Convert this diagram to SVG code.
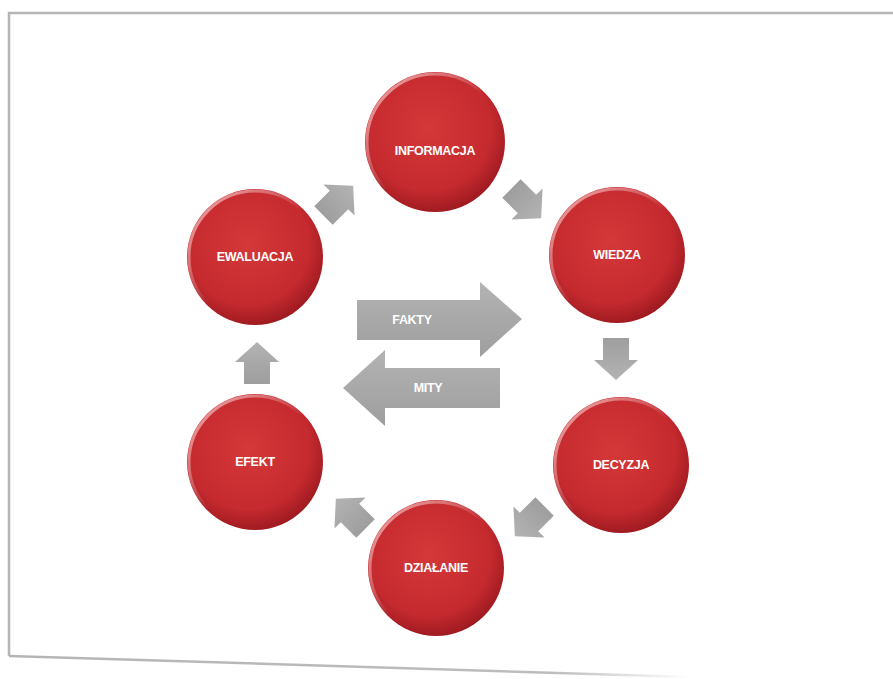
<svg xmlns="http://www.w3.org/2000/svg" width="893" height="679" viewBox="0 0 893 679">
<defs>
<radialGradient id="red" cx="0.45" cy="0.4" r="0.6">
<stop offset="0" stop-color="#d53838"/>
<stop offset="0.75" stop-color="#c52a2f"/>
<stop offset="1" stop-color="#a01b21"/>
</radialGradient>
<linearGradient id="rim" x1="0" y1="0" x2="1" y2="1">
<stop offset="0" stop-color="#f4b0b0" stop-opacity="0.9"/>
<stop offset="0.5" stop-color="#ffffff" stop-opacity="0"/>
<stop offset="1" stop-color="#ffffff" stop-opacity="0"/>
</linearGradient>
<linearGradient id="gray" x1="0" y1="0" x2="0" y2="1">
<stop offset="0" stop-color="#b3b3b3"/>
<stop offset="1" stop-color="#9e9e9e"/>
</linearGradient>
<linearGradient id="border" x1="0" y1="0" x2="1" y2="0">
<stop offset="0" stop-color="#b5b5b8"/>
<stop offset="0.8" stop-color="#bdbdc0"/>
<stop offset="1" stop-color="#ffffff"/>
</linearGradient>
<path id="sa" d="M0,-20 L22,0 L13,0 L13,22 L-13,22 L-13,0 L-22,0 Z"/>
</defs>
<style>
.c{fill:url(#red);}
.r{fill:none;stroke:url(#rim);stroke-width:3;}
.t{font-family:"Liberation Sans",Arial,sans-serif;font-weight:bold;font-size:12.5px;fill:#ffffff;text-anchor:middle;letter-spacing:-0.3px;}
.a{fill:url(#gray);}
</style>
<rect width="893" height="679" fill="#ffffff"/>
<g id="frame" fill="none" stroke-width="2.5">
<path d="M893,13 L9,13 L9,656" stroke="#b5b5b8"/>
<path d="M9,656 L690,677" stroke="url(#border)"/>
</g>
<g id="connectors">
<use href="#sa" class="a" transform="translate(339,200) rotate(45)"/>
<use href="#sa" class="a" transform="translate(527,204) rotate(135)"/>
<use href="#sa" class="a" transform="translate(616,360) rotate(180)"/>
<use href="#sa" class="a" transform="translate(529,522) rotate(225)"/>
<use href="#sa" class="a" transform="translate(350,513) rotate(315)"/>
<use href="#sa" class="a" transform="translate(257,362)"/>
</g>
<g id="fakty">
<path class="a" d="M357,300 L480,300 L480,282 L522,319 L480,357 L480,340 L357,340 Z"/>
<text class="t" x="412" y="324">FAKTY</text>
</g>
<g id="mity">
<path class="a" d="M500,368 L385,368 L385,350 L343,388 L385,426 L385,408 L500,408 Z"/>
<text class="t" x="428" y="392">MITY</text>
</g>
<g id="informacja">
<circle class="c" cx="435" cy="142" r="70"/>
<circle class="r" cx="435" cy="142" r="68"/>
<text class="t" x="435" y="155">INFORMACJA</text>
</g>
<g id="wiedza">
<circle class="c" cx="617" cy="255" r="68"/>
<circle class="r" cx="617" cy="255" r="66"/>
<text class="t" x="617" y="259">WIEDZA</text>
</g>
<g id="decyzja">
<circle class="c" cx="621" cy="465" r="68"/>
<circle class="r" cx="621" cy="465" r="66"/>
<text class="t" x="621" y="469">DECYZJA</text>
</g>
<g id="dzialanie">
<circle class="c" cx="436" cy="568" r="68"/>
<circle class="r" cx="436" cy="568" r="66"/>
<text class="t" x="436" y="572">DZIAŁANIE</text>
</g>
<g id="efekt">
<circle class="c" cx="255" cy="462" r="68"/>
<circle class="r" cx="255" cy="462" r="66"/>
<text class="t" x="255" y="466">EFEKT</text>
</g>
<g id="ewaluacja">
<circle class="c" cx="255" cy="257" r="68"/>
<circle class="r" cx="255" cy="257" r="66"/>
<text class="t" x="255" y="261">EWALUACJA</text>
</g>
</svg>
